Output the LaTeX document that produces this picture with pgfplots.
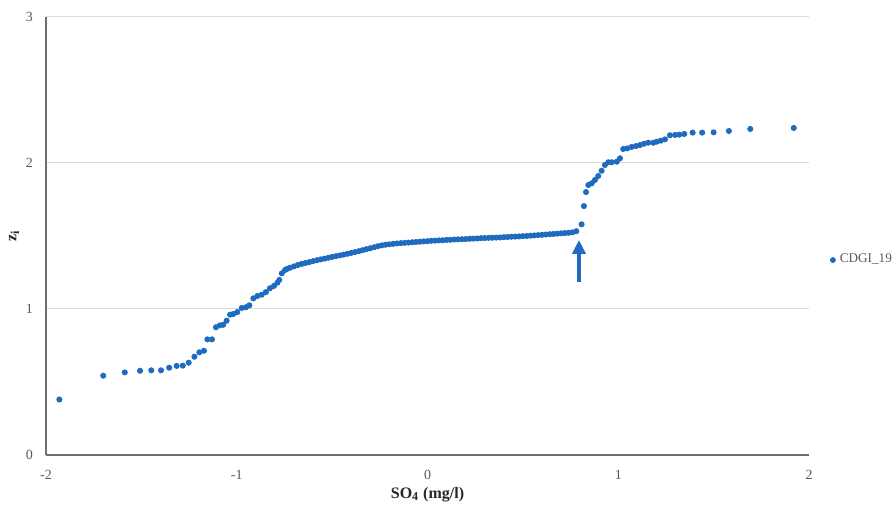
\documentclass[border=0pt]{standalone}
\usepackage{pgfplots}
\pgfplotsset{compat=1.18}
\usepackage{fontspec}
\setmainfont{Liberation Serif}
\usetikzlibrary{arrows.meta}

\definecolor{ptblue}{RGB}{31,107,192}
\definecolor{ticktxt}{RGB}{89,89,89}
\definecolor{gridgray}{RGB}{217,217,217}
\definecolor{axgray}{RGB}{110,110,110}

\begin{document}
\begin{tikzpicture}
\begin{axis}[
    name=ax,
    scale only axis,
    width=381.5pt,
    height=219pt,
    xmin=-2, xmax=2,
    ymin=0, ymax=3,
    xtick={-2,-1,0,1,2},
    ytick={0,1,2,3},
    axis x line*=bottom,
    axis y line*=left,
    axis line style={axgray, line width=0.6pt},
    major tick length=0pt,
    ymajorgrids,
    grid style={gridgray, line width=0.5pt},
    tick label style={font=\fontsize{7}{8}\selectfont, text=ticktxt},
    /pgf/number format/assume math mode=true,
    xticklabel style={yshift=-4pt},
    yticklabel style={xshift=-3pt},
    xlabel={\textbf{SO\textsubscript{4} (mg/l)}},
    ylabel={\textbf{z\textsubscript{i}}},
    label style={font=\fontsize{8}{9}\selectfont, text=black!85},
    xlabel style={yshift=3pt},
    ylabel style={yshift=-3.5pt},
    legend style={at={(1.027,0.445)}, anchor=west, draw=none, fill=none,
        font=\fontsize{6.6}{8}\selectfont, text=ticktxt,
        inner sep=0pt},
    legend cell align=left,
    legend image code/.code={\fill[ptblue] (0.12cm,0cm) circle (1.25pt);},
]

\addplot[only marks, mark=*, mark size=1.3pt, color=ptblue, mark options={draw=none, fill=ptblue}]
table {
x y
-1.930 0.380
-1.700 0.543
-1.587 0.566
-1.507 0.577
-1.448 0.580
-1.397 0.580
-1.354 0.598
-1.315 0.610
-1.283 0.612
-1.252 0.632
-1.222 0.673
-1.196 0.703
-1.172 0.714
-1.154 0.792
-1.130 0.792
-1.109 0.875
-1.088 0.888
-1.071 0.892
-1.053 0.920
-1.035 0.961
-1.018 0.966
-0.997 0.979
-0.974 1.007
-0.952 1.012
-0.934 1.025
-0.913 1.073
-0.892 1.089
-0.869 1.098
-0.847 1.116
-0.826 1.142
-0.805 1.158
-0.787 1.180
-0.777 1.199
-0.764 1.244
-0.747 1.267
-0.735 1.275
-0.72 1.283
-0.70 1.292
-0.68 1.301
-0.66 1.309
-0.64 1.315
-0.62 1.321
-0.60 1.328
-0.58 1.334
-0.56 1.340
-0.54 1.345
-0.52 1.351
-0.50 1.357
-0.48 1.362
-0.46 1.367
-0.44 1.372
-0.42 1.378
-0.40 1.384
-0.38 1.390
-0.36 1.396
-0.34 1.403
-0.32 1.410
-0.30 1.416
-0.28 1.423
-0.26 1.430
-0.24 1.436
-0.22 1.440
-0.20 1.443
-0.18 1.446
-0.16 1.449
-0.14 1.451
-0.12 1.453
-0.10 1.455
-0.08 1.457
-0.06 1.459
-0.04 1.461
-0.02 1.463
0.00 1.465
0.02 1.467
0.04 1.468
0.06 1.470
0.08 1.471
0.10 1.473
0.12 1.474
0.14 1.476
0.16 1.477
0.18 1.478
0.20 1.479
0.22 1.481
0.24 1.482
0.26 1.483
0.28 1.485
0.30 1.486
0.32 1.487
0.34 1.488
0.36 1.489
0.38 1.490
0.40 1.492
0.42 1.493
0.44 1.495
0.46 1.496
0.48 1.497
0.50 1.499
0.52 1.500
0.54 1.502
0.56 1.504
0.58 1.506
0.60 1.508
0.62 1.510
0.64 1.512
0.66 1.514
0.68 1.516
0.70 1.518
0.72 1.520
0.74 1.522
0.76 1.525
0.78 1.533
0.808 1.580
0.820 1.705
0.831 1.801
0.843 1.849
0.861 1.861
0.878 1.884
0.895 1.911
0.913 1.947
0.930 1.986
0.948 2.005
0.966 2.005
0.992 2.009
1.009 2.032
1.026 2.096
1.047 2.100
1.070 2.110
1.093 2.116
1.114 2.123
1.135 2.132
1.157 2.139
1.184 2.139
1.202 2.146
1.223 2.153
1.245 2.162
1.271 2.190
1.298 2.192
1.320 2.194
1.346 2.199
1.390 2.208
1.440 2.208
1.500 2.210
1.580 2.219
1.692 2.233
1.920 2.240
};
\addlegendentry{CDGI\_19}

\draw[ptblue, line width=2pt, -{Triangle[width=6.5pt,length=7pt]}]
    (axis cs:0.794,1.185) -- (axis cs:0.794,1.473);
\end{axis}
\pgfresetboundingbox
\path[use as bounding box] ([xshift=-23pt,yshift=-26pt]ax.south west)
    rectangle ([xshift=43.5pt,yshift=8.5pt]ax.north east);
\end{tikzpicture}
\end{document}
